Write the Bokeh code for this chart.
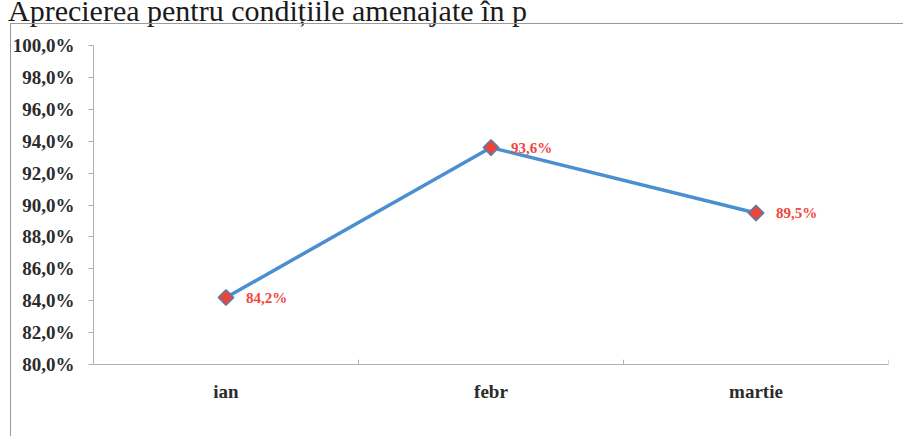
from bokeh.plotting import figure
from bokeh.models import (FactorRange, Range1d, CustomJSTickFormatter, Div,
                          LabelSet, ColumnDataSource, FixedTicker, InlineStyleSheet)
from bokeh.layouts import column
from bokeh.core.properties import value
from bokeh.embed import file_html
from bokeh.resources import INLINE
import math

title_text = "Aprecierea pentru condițiile amenajate în p"
months = ["ian", "febr", "martie"]
values = [84.2, 93.6, 89.5]
labels = ["84,2%", "93,6%", "89,5%"]
y_ticks = [80, 82, 84, 86, 88, 90, 92, 94, 96, 98, 100]

W = 903
TITLE_H = 22
FIG_H = 436 - TITLE_H
LEFT, RIGHT, TOP, BOTTOM = 93, 15, 22, 73

title = Div(text=title_text, width=W, height=TITLE_H,
            styles={"overflow": "visible", "white-space": "nowrap",
                    "font-family": "'Liberation Serif'", "font-size": "30px",
                    "line-height": "30px", "color": "#1a1a1a",
                    "padding-left": "3px", "margin-top": "-4px"})

src = ColumnDataSource(dict(x=months, y=values, lab=labels))

p = figure(width=W, height=FIG_H, output_backend="svg", toolbar_location=None,
           x_range=FactorRange(*months), y_range=Range1d(80, 100),
           min_border_left=LEFT, min_border_right=RIGHT, min_border_top=TOP,
           min_border_bottom=BOTTOM)
p.outline_line_color = None
p.grid.visible = False
p.background_fill_color = "white"
p.border_fill_alpha = 0

p.line("x", "y", source=src, line_color="#4a8fd0", line_width=3.5)
p.scatter("x", "y", source=src, marker="square", size=11, angle=math.pi / 4,
          fill_color="#e8453c", line_color="#5a7fa8", line_width=1.5)
p.add_layout(LabelSet(x="x", y="y", text="lab", source=src, x_offset=20,
                      y_offset=0, text_baseline="middle",
                      text_font=value("Liberation Serif"), text_font_style="bold",
                      text_font_size="15px", text_color="#f0463c"))

# small category-boundary ticks on the x axis
bounds = [i + 1 for i in range(len(months))]
p.segment(x0=bounds, x1=bounds, y0=[80] * len(bounds), y1=[80.3] * len(bounds),
          line_color="#b0b0b0", line_width=1)

ya = p.yaxis[0]
ya.ticker = FixedTicker(ticks=y_ticks)
ya.formatter = CustomJSTickFormatter(code="return tick.toFixed(1).replace('.', ',') + '%';")
ya.major_label_text_font = "Liberation Serif"
ya.major_label_text_font_style = "bold"
ya.major_label_text_font_size = "19px"
ya.major_label_text_color = "#2b2b2b"
ya.major_label_standoff = 14
ya.axis_line_color = "#b0b0b0"
ya.major_tick_line_color = "#b0b0b0"
ya.major_tick_in = 0
ya.major_tick_out = 5
ya.minor_tick_line_color = None

xa = p.xaxis[0]
xa.major_label_text_font = "Liberation Serif"
xa.major_label_text_font_style = "bold"
xa.major_label_text_font_size = "19px"
xa.major_label_text_color = "#2b2b2b"
xa.axis_line_color = "#b0b0b0"
xa.major_tick_line_color = None
xa.major_label_standoff = 10

# outer chart frame (left and top edges visible in the scan)
p.stylesheets.append(InlineStyleSheet(css="""
:host::after {
  content: '';
  position: absolute;
  left: 10px; top: 0px; right: -10px; bottom: -10px;
  border-left: 1.5px solid #9a9a9a;
  border-top: 1.5px solid #9a9a9a;
  pointer-events: none;
}
"""))

layout = column(title, p, spacing=0)
open("out.html", "w").write(file_html(layout, INLINE))
